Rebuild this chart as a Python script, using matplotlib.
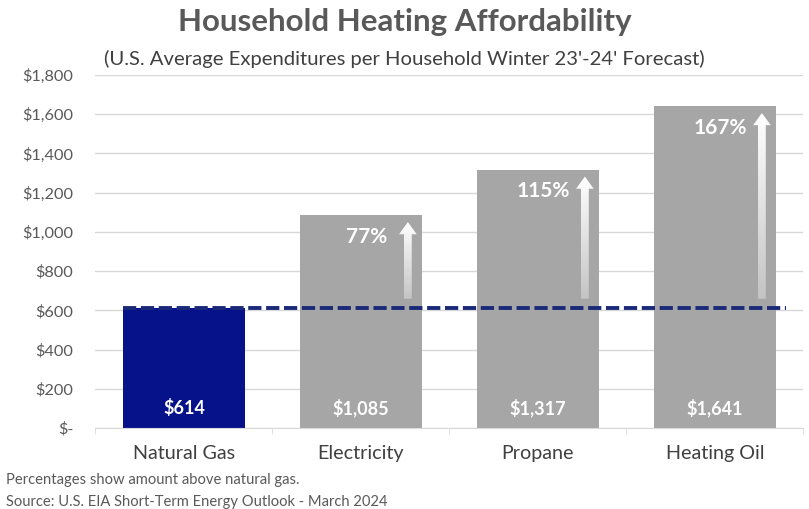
import numpy as np
import matplotlib.pyplot as plt
from matplotlib.colors import LinearSegmentedColormap
from matplotlib.patches import Polygon
from matplotlib.ticker import FuncFormatter

plt.rcParams['font.family'] = ['Lato', 'DejaVu Sans']

# Gasto medio por hogar, invierno 23-24
categorias = ['Natural Gas', 'Electricity', 'Propane', 'Heating Oil']
gasto = [614, 1085, 1317, 1641]
etiquetas_valor = ['$614', '$1,085', '$1,317', '$1,641']
pct_sobre_gas = [77, 115, 167]  # % por encima del gas natural

azul = '#06128a'
gris = '#a6a6a6'
texto = '#595959'

fig = plt.figure(figsize=(8.09, 5.09), dpi=100)
ax = fig.add_axes([0.1180, 0.1591, 0.8752, 0.6936])

x = np.arange(len(categorias))
colores = [azul] + [gris] * (len(categorias) - 1)
ax.bar(x, gasto, width=0.69, color=colores, zorder=2)

# linea de referencia: nivel del gas natural
ax.plot([-0.345, 3.4], [gasto[0], gasto[0]], color='#1b2a78', lw=2.8,
        dashes=(3.4, 1.2), zorder=4)

# valores dentro de las barras
for xi, lab in zip(x, etiquetas_valor):
    ax.text(xi, 102, lab, ha='center', va='center', color='white',
            fontsize=13, fontweight='bold', zorder=5)

# flechas con degradado y porcentajes
cmap = LinearSegmentedColormap.from_list('flecha', ['#c4c4c4', '#ffffff'])
grad = np.linspace(0, 1, 256).reshape(-1, 1)
for xi, v, p in zip(x[1:], gasto[1:], pct_sobre_gas):
    xa = xi + 0.265
    y0, y1 = gasto[0] + 45, v - 35
    hw, sw, hl = 0.05, 0.022, 62
    pts = [(xa - sw, y0), (xa + sw, y0), (xa + sw, y1 - hl), (xa + hw, y1 - hl),
           (xa, y1), (xa - hw, y1 - hl), (xa - sw, y1 - hl)]
    poly = Polygon(pts, closed=True, facecolor='none', edgecolor='none')
    ax.add_patch(poly)
    im = ax.imshow(grad, cmap=cmap, origin='lower', aspect='auto',
                   extent=[xa - hw, xa + hw, y0, y1], zorder=3)
    im.set_clip_path(poly)
    ax.text(xi + 0.03, v - 110, f'{p}%', ha='center', va='center',
            color='white', fontsize=15, fontweight='bold', zorder=5)

ax.set_xlim(-0.5, 3.5)
ax.set_ylim(0, 1800)
ax.set_yticks(np.arange(0, 1801, 200))
ax.yaxis.set_major_formatter(FuncFormatter(
    lambda v, _: '$-' if v == 0 else f'${v:,.0f}'))
ax.grid(axis='y', color='#d9d9d9', lw=1, zorder=0)
ax.set_axisbelow(True)

ax.set_xticks(x)
ax.set_xticklabels(categorias, fontsize=14.2, color='#404040')
ax.set_xticks(np.arange(-0.5, 4, 1), minor=True)
ax.tick_params(axis='x', which='major', length=0, pad=12)
ax.tick_params(axis='x', which='minor', length=4, color='#d9d9d9')
ax.tick_params(axis='y', length=0, labelsize=11.8, labelcolor=texto, pad=16)

for s in ['top', 'right', 'left']:
    ax.spines[s].set_visible(False)
ax.spines['bottom'].set_color('#d9d9d9')

fig.text(0.5, 0.957, 'Household Heating Affordability', ha='center',
         va='center', fontsize=22.5, fontweight='bold', color=texto)
fig.text(0.5, 0.885, "(U.S. Average Expenditures per Household Winter 23'-24' Forecast)",
         ha='center', va='center', fontsize=14.6, color='#404040')
fig.text(0.007, 0.056, 'Percentages show amount above natural gas.',
         ha='left', va='center', fontsize=10.6, color=texto)
fig.text(0.007, 0.013, 'Source: U.S. EIA Short-Term Energy Outlook - March 2024',
         ha='left', va='center', fontsize=10.6, color=texto)

fig.savefig('out.png', dpi=100)
